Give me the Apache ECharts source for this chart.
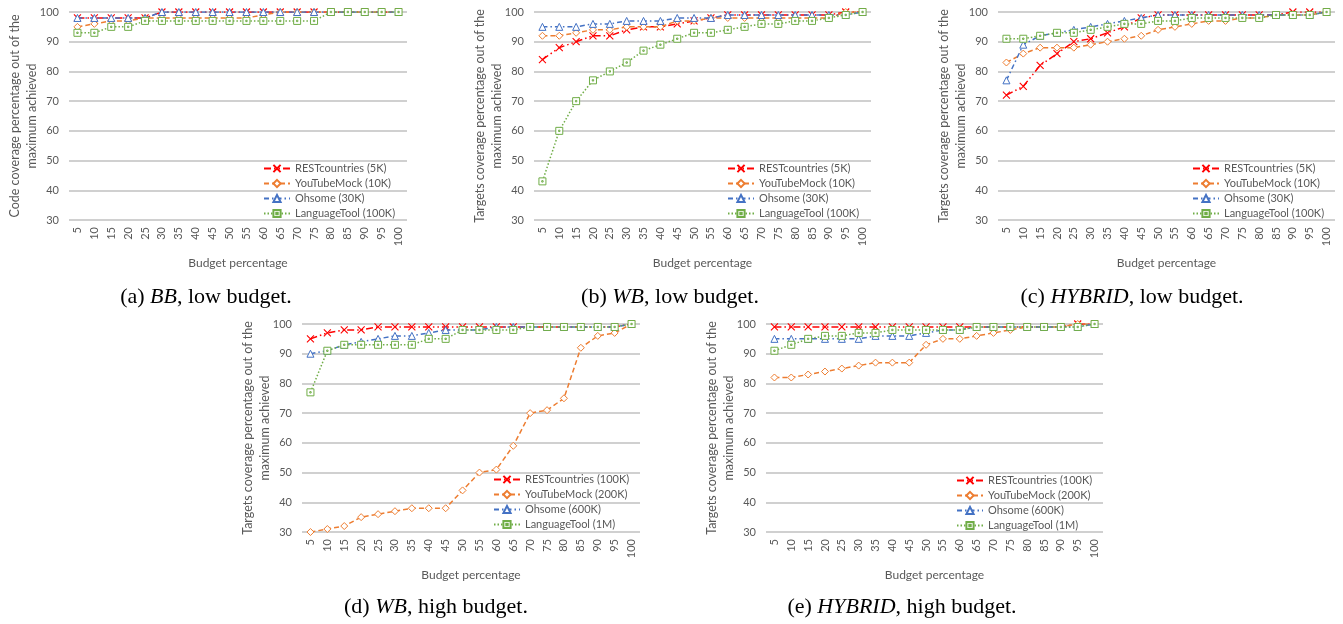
<!DOCTYPE html>
<html><head><meta charset="utf-8">
<script src="https://cdn.jsdelivr.net/npm/echarts@6/dist/echarts.min.js"></script>
<style>html,body{margin:0;padding:0;background:#fff}#c{width:1343px;height:624px}</style>
</head><body><div id="c"></div>
<script>
const categories = ['5','10','15','20','25','30','35','40','45','50','55','60','65','70','75','80','85','90','95','100'];
const yTicks = [30,40,50,60,70,80,90,100];

// (a) BB, low budget
const a_rest = [98,98,98,98,98,100,100,100,100,100,100,100,100,100,100,100,100,100,100,100];
const a_yt   = [95,96,97,97,98,98,98,98,98,98,98,99,100,100,100,100,100,100,100,100];
const a_oh   = [98,98,98,98,98,100,100,100,100,100,100,100,100,100,100,100,100,100,100,100];
const a_lt   = [93,93,95,95,97,97,97,97,97,97,97,97,97,97,97,100,100,100,100,100];
// (b) WB, low budget
const b_rest = [84,88,90,92,92,94,95,95,96,97,98,99,99,99,99,99,99,99,100,100];
const b_yt   = [92,92,93,94,94,95,95,95,97,97,98,98,98,98,98,98,98,98,100,100];
const b_oh   = [95,95,95,96,96,97,97,97,98,98,98,99,99,99,99,99,99,99,99,100];
const b_lt   = [43,60,70,77,80,83,87,89,91,93,93,94,95,96,96,97,97,98,99,100];
// (c) HYBRID, low budget
const c_rest = [72,75,82,86,90,91,93,95,98,99,99,99,99,99,99,99,99,100,100,100];
const c_yt   = [83,86,88,88,88,89,90,91,92,94,95,96,97,97,98,98,99,99,99,100];
const c_oh   = [77,89,92,93,94,95,96,97,98,99,99,99,99,99,99,99,99,99,99,100];
const c_lt   = [91,91,92,93,93,94,95,96,96,97,97,98,98,98,98,98,99,99,99,100];
// (d) WB, high budget
const d_rest = [95,97,98,98,99,99,99,99,99,99,99,99,99,99,99,99,99,99,99,100];
const d_yt   = [30,31,32,35,36,37,38,38,38,44,50,51,59,70,71,75,92,96,97,100];
const d_oh   = [90,91,93,94,95,96,96,97,98,98,98,99,99,99,99,99,99,99,99,100];
const d_lt   = [77,91,93,93,93,93,93,95,95,98,98,98,98,99,99,99,99,99,99,100];
// (e) HYBRID, high budget
const e_rest = [99,99,99,99,99,99,99,99,99,99,99,99,99,99,99,99,99,99,100,100];
const e_yt   = [82,82,83,84,85,86,87,87,87,93,95,95,96,97,98,99,99,99,100,100];
const e_oh   = [95,95,95,95,95,95,96,96,96,97,98,98,99,99,99,99,99,99,99,100];
const e_lt   = [91,93,95,96,96,97,97,98,98,98,98,98,99,99,99,99,99,99,99,100];

const lowNames  = ['RESTcountries (5K)','YouTubeMock (10K)','Ohsome (30K)','LanguageTool (100K)'];
const highNames = ['RESTcountries (100K)','YouTubeMock (200K)','Ohsome (600K)','LanguageTool (1M)'];

const panels = [
  {grid:{left:69,top:12,width:338,height:208}, yname:'Code coverage percentage out of the\nmaximum achieved', names:lowNames, data:[a_rest,a_yt,a_oh,a_lt], legend:{left:263,top:162}},
  {grid:{left:534,top:12,width:337,height:208}, yname:'Targets coverage percentage out of the\nmaximum achieved', names:lowNames, data:[b_rest,b_yt,b_oh,b_lt], legend:{left:727,top:162}},
  {grid:{left:998,top:12,width:337,height:208}, yname:'Targets coverage percentage out of the\nmaximum achieved', names:lowNames, data:[c_rest,c_yt,c_oh,c_lt], legend:{left:1192,top:162}},
  {grid:{left:302,top:324,width:338,height:208}, yname:'Targets coverage percentage out of the\nmaximum achieved', names:highNames, data:[d_rest,d_yt,d_oh,d_lt], legend:{left:493,top:473}},
  {grid:{left:766,top:324,width:337,height:208}, yname:'Targets coverage percentage out of the\nmaximum achieved', names:highNames, data:[e_rest,e_yt,e_oh,e_lt], legend:{left:956,top:474}}
];

const styles = [
  {color:'#FF0000', symbol:'path://M0,0L10,10M10,0L0,10', fill:'#FF0000', dash:[7,3,1.5,3,1.5,3], bw:1.1},
  {color:'#ED7D31', symbol:'diamond', fill:'#ffffff', dash:[5,3], bw:1},
  {color:'#4472C4', symbol:'triangle', fill:'#ffffff', dash:[5,3,1.5,3], bw:1},
  {color:'#70AD47', symbol:'path://M0,0H10V10H0Z M4,4H6V6H4Z', fill:'#ffffff', dash:[1.5,2], bw:1}
];

const FONT = 'Lato, "Open Sans", sans-serif';
const grid=[], xAxis=[], yAxis=[], series=[], legend=[];
panels.forEach((p,i)=>{
  grid.push(Object.assign({containLabel:false}, p.grid));
  xAxis.push({type:'category', gridIndex:i, data:categories, boundaryGap:true,
    axisLine:{show:false}, axisTick:{show:false},
    axisLabel:{interval:0, rotate:90, color:'#595959', fontSize:11, fontFamily:FONT, margin:7},
    name:'Budget percentage', nameLocation:'middle', nameGap:37, nameMoveOverlap:false,
    nameTextStyle:{color:'#595959', fontSize:12, fontFamily:FONT}});
  yAxis.push({type:'value', gridIndex:i, min:30, max:100, interval:10,
    axisLine:{show:false}, axisTick:{show:false},
    splitLine:{lineStyle:{color:'#c0c0c0', width:1.5}},
    axisLabel:{color:'#595959', fontSize:11, fontFamily:FONT, margin:10},
    name:p.yname, nameLocation:'middle', nameGap:29, nameMoveOverlap:false,
    nameTextStyle:{color:'#595959', fontSize:12.5, fontFamily:FONT, lineHeight:17, align:'center'}});
  p.names.forEach((nm,k)=>{
    const s=styles[k];
    series.push({type:'line', name:nm, xAxisIndex:i, yAxisIndex:i, data:p.data[k],
      symbol:s.symbol, symbolSize:7, showAllSymbol:true, symbolKeepAspect:true,
      itemStyle:{color:s.fill, borderColor:s.color, borderWidth:s.bw},
      lineStyle:{color:s.color, width:1.5, type:s.dash},
      emphasis:{disabled:true}, animation:false, z:2+k});
  });
  legend.push({orient:'vertical', left:p.legend.left, top:p.legend.top, padding:0,
    itemWidth:26, itemHeight:9, itemGap:2, align:'left', data:p.names,
    textStyle:{color:'#595959', fontSize:11, fontFamily:FONT, lineHeight:13}, selectedMode:false});
});

const capStyle = (txt, x, y) => ({type:'text', x:x, y:y,
  style:{text:txt, align:'center', verticalAlign:'middle', fill:'#000',
    font:'22px "Liberation Serif", serif',
    rich:{i:{fontStyle:'italic', fontFamily:'"Liberation Serif", serif', fontSize:22, fill:'#000'},
          n:{fontFamily:'"Liberation Serif", serif', fontSize:22, fill:'#000'}}}});

const chart = echarts.init(document.getElementById('c'), null, {renderer:'canvas'});
chart.setOption({
  animation:false,
  grid, xAxis, yAxis, series, legend,
  graphic:[
    capStyle('{n|(a) }{i|BB}{n|, low budget.}', 206, 297),
    capStyle('{n|(b) }{i|WB}{n|, low budget.}', 670, 297),
    capStyle('{n|(c) }{i|HYBRID}{n|, low budget.}', 1132, 297),
    capStyle('{n|(d) }{i|WB}{n|, high budget.}', 436, 607),
    capStyle('{n|(e) }{i|HYBRID}{n|, high budget.}', 902, 607)
  ]
});
</script></body></html>
